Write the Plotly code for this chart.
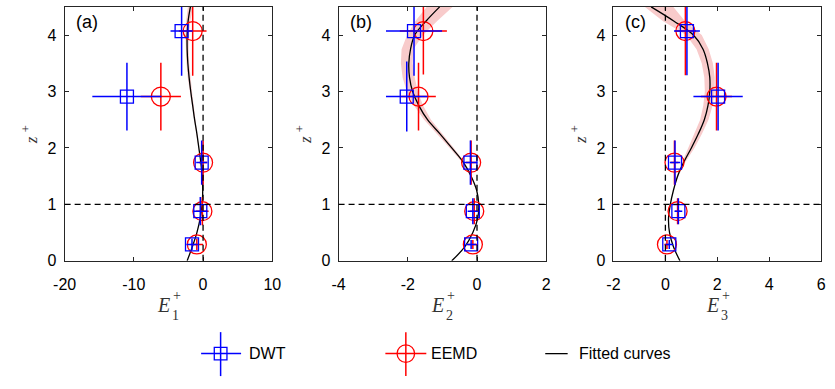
import plotly.graph_objects as go

# ---------------- data ----------------
Z_PTS = [0.29, 0.88, 1.74, 2.91, 4.07]

# panel (a)  E1+
DWT_A = [-1.6, -0.4, -0.2, -11.0, -3.1]
DWT_A_EX = [0.8, 1.0, 0.8, 5.0, 1.6]
DWT_A_EZ = [0.10, 0.25, 0.39, 0.60, 0.79]
EEMD_A = [-0.9, -0.1, 0.0, -6.1, -1.5]
EEMD_A_EX = [0.9, 0.9, 0.6, 2.9, 2.0]
EEMD_A_EZ = [0.10, 0.25, 0.39, 0.60, 0.79]

# panel (b)  E2+
DWT_B = [-0.17, -0.12, -0.19, -2.03, -1.82]
DWT_B_EX = [0.15, 0.15, 0.20, 0.60, 0.81]
DWT_B_EZ = [0.08, 0.23, 0.39, 0.62, 0.79]
EEMD_B = [-0.12, -0.08, -0.17, -1.69, -1.55]
EEMD_B_EX = [0.15, 0.12, 0.15, 0.50, 0.68]
EEMD_B_EZ = [0.08, 0.23, 0.39, 0.60, 0.77]

# panel (c)  E3+
DWT_C = [0.15, 0.50, 0.37, 2.03, 0.83]
DWT_C_EX = [0.15, 0.15, 0.20, 0.95, 0.50]
DWT_C_EZ = [0.08, 0.23, 0.39, 0.60, 0.78]
EEMD_C = [0.06, 0.47, 0.35, 1.97, 0.77]
EEMD_C_EX = [0.10, 0.10, 0.15, 0.60, 0.40]
EEMD_C_EZ = [0.08, 0.23, 0.39, 0.60, 0.78]

# fitted curves and their shaded bands
Z_FIT = [0.0, 0.25, 0.5, 0.75, 1.0, 1.25, 1.5, 1.75, 2.0, 2.25, 2.5, 2.75,
         3.0, 3.25, 3.5, 3.75, 4.0, 4.25, 4.5]
FIT_A = [-2.3, -1.55, -0.89, -0.42, -0.14, -0.05, -0.14, -0.33, -0.61, -0.89,
         -1.22, -1.50, -1.78, -2.02, -2.20, -2.30, -2.30, -2.16, -1.83]
BAND_A_LO = [-2.3, -1.55, -0.89, -0.42, -0.14, -0.05, -0.15, -0.36, -0.68, -0.99,
             -1.35, -1.66, -1.95, -2.22, -2.40, -2.52, -2.55, -2.45, -2.20]
BAND_A_HI = [-2.3, -1.55, -0.89, -0.42, -0.14, -0.05, -0.13, -0.30, -0.54, -0.79,
             -1.10, -1.35, -1.60, -1.82, -2.00, -2.08, -2.05, -1.85, -1.45]

FIT_B = [-0.73, -0.35, -0.12, 0.02, 0.05, -0.01, -0.17, -0.40, -0.73, -1.07,
         -1.43, -1.68, -1.86, -1.95, -1.97, -1.92, -1.80, -1.47, -1.08]
BAND_B_LO = [-0.73, -0.35, -0.12, 0.02, 0.05, -0.02, -0.19, -0.44, -0.79, -1.15,
             -1.53, -1.82, -2.03, -2.15, -2.20, -2.18, -2.02, -1.78, -1.45]
BAND_B_HI = [-0.73, -0.35, -0.12, 0.02, 0.05, 0.00, -0.15, -0.36, -0.67, -0.99,
             -1.33, -1.56, -1.71, -1.80, -1.86, -1.84, -1.56, -1.15, -0.70]

FIT_C = [0.56, 0.31, 0.16, 0.12, 0.19, 0.31, 0.47, 0.71, 1.00, 1.27,
         1.50, 1.64, 1.71, 1.71, 1.62, 1.45, 1.08, 0.32, -0.55]
BAND_C_LO = [0.56, 0.31, 0.16, 0.12, 0.19, 0.31, 0.44, 0.65, 0.88, 1.13,
             1.34, 1.46, 1.52, 1.50, 1.40, 1.20, 0.80, -0.10, -0.80]
BAND_C_HI = [0.56, 0.31, 0.16, 0.12, 0.19, 0.31, 0.50, 0.77, 1.12, 1.41,
             1.66, 1.82, 1.90, 1.90, 1.83, 1.67, 1.40, 0.75, 0.30]

X_RANGES = [[-20, 10], [-4, 2], [-2, 6]]
X_TICKS = [[-20, -10, 0, 10], [-4, -2, 0, 2], [-2, 0, 2, 4, 6]]
Y_TICKS = [0, 1, 2, 3, 4]
PANEL_LABELS = ["(a)", "(b)", "(c)"]
SUBS = ["1", "2", "3"]
LEGEND_NAMES = ["DWT", "EEMD", "Fitted curves"]

# ---------------- layout geometry ----------------
W, H = 835, 389
def px(x):
    return x / W
def py(y):
    return 1 - y / H

PLOT_LEFT = [54, 335, 617]
PLOT_W = 213
Y_TOP, Y_BOT = 7, 267

BLUE = "#0000FF"
RED = "#FF0000"
PINK = "#F8CBCB"
AXC = "#262626"
TXT = "#333333"
SANS = "Liberation Sans, Arial, sans-serif"
SERIF = "Liberation Serif, Times New Roman, serif"

panels = [
    (DWT_A, DWT_A_EX, DWT_A_EZ, EEMD_A, EEMD_A_EX, EEMD_A_EZ, FIT_A, BAND_A_LO, BAND_A_HI),
    (DWT_B, DWT_B_EX, DWT_B_EZ, EEMD_B, EEMD_B_EX, EEMD_B_EZ, FIT_B, BAND_B_LO, BAND_B_HI),
    (DWT_C, DWT_C_EX, DWT_C_EZ, EEMD_C, EEMD_C_EX, EEMD_C_EZ, FIT_C, BAND_C_LO, BAND_C_HI),
]

fig = go.Figure()
shapes = []
annotations = []
layout_axes = {}


def note(text, x, y, size, family=SERIF, italic=False, angle=0, anchor="center", color=TXT):
    f = dict(family=family, size=size, color=color)
    if italic:
        f["style"] = "italic"
    annotations.append(dict(text=text, xref="paper", yref="paper", x=px(x), y=py(y),
                            xanchor=anchor, yanchor="middle", textangle=angle,
                            showarrow=False, font=f))


for i, (dwt, dex, dez, eemd, eex, eez, fit, blo, bhi) in enumerate(panels):
    xa = "x" if i == 0 else f"x{i+1}"
    ya = "y" if i == 0 else f"y{i+1}"
    # band
    fig.add_trace(go.Scatter(
        x=list(blo) + list(bhi)[::-1], y=Z_FIT + Z_FIT[::-1],
        fill="toself", fillcolor=PINK, mode="lines", line=dict(width=0, color=PINK),
        showlegend=False, hoverinfo="skip", xaxis=xa, yaxis=ya))
    # fitted curve
    fig.add_trace(go.Scatter(
        x=fit, y=Z_FIT, mode="lines", line=dict(color="black", width=1.3, shape="spline"),
        showlegend=False, xaxis=xa, yaxis=ya))
    # EEMD
    fig.add_trace(go.Scatter(
        x=eemd, y=Z_PTS, mode="markers",
        marker=dict(symbol="circle-open", size=19, color=RED, line=dict(width=1.3)),
        error_x=dict(type="data", array=eex, color=RED, thickness=1.5, width=0),
        error_y=dict(type="data", array=eez, color=RED, thickness=1.5, width=0),
        showlegend=False, xaxis=xa, yaxis=ya))
    # DWT
    fig.add_trace(go.Scatter(
        x=dwt, y=Z_PTS, mode="markers",
        marker=dict(symbol="square-open", size=13, color=BLUE, line=dict(width=1.3)),
        error_x=dict(type="data", array=dex, color=BLUE, thickness=1.5, width=0),
        error_y=dict(type="data", array=dez, color=BLUE, thickness=1.5, width=0),
        showlegend=False, xaxis=xa, yaxis=ya))

    left = PLOT_LEFT[i]
    dom_x = [px(left), px(left + PLOT_W)]
    key = "" if i == 0 else str(i + 1)
    layout_axes["xaxis" + key] = dict(
        domain=dom_x, range=X_RANGES[i], anchor=ya,
        tickvals=X_TICKS[i], ticktext=[str(v) for v in X_TICKS[i]],
        ticks="inside", ticklen=4, tickcolor=AXC, showline=True, linecolor=AXC,
        linewidth=1, mirror="ticks", showgrid=False, zeroline=False,
        tickfont=dict(family=SANS, size=16, color="black"), ticklabelstandoff=9)
    layout_axes["yaxis" + key] = dict(
        domain=[py(Y_BOT), py(Y_TOP)], range=[0, 4.5], anchor=xa,
        tickvals=Y_TICKS, ticktext=[str(v) for v in Y_TICKS],
        ticks="inside", ticklen=4, tickcolor=AXC, showline=True, linecolor=AXC,
        linewidth=1, mirror="ticks", showgrid=False, zeroline=False,
        tickfont=dict(family=SANS, size=16, color="black"), ticklabelstandoff=4)

    dash = dict(color="black", width=1.3, dash="6px,4px")
    shapes.append(dict(type="line", xref=xa, yref=ya + " domain", x0=0, x1=0, y0=0, y1=1, line=dash))
    shapes.append(dict(type="line", xref=xa + " domain", yref=ya, x0=0, x1=1, y0=1, y1=1, line=dash))

    # panel label
    note(PANEL_LABELS[i], left + 10, 23, 18, family=SANS, anchor="left", color="black")
    # y title  z^+  (rotated)
    note("z", left - 34, 143, 17, italic=True, angle=-90)
    note("+", left - 40, 132, 13, angle=-90)
    # x title  E_i^+
    cx = left + PLOT_W / 2
    note("E", cx - 5, 312, 20, italic=True)
    note("+", cx + 8.5, 302, 14)
    note(SUBS[i], cx + 7.5, 323, 14)

# ---------------- legend (drawn manually) ----------------
LY = 362
shapes += [
    # DWT icon
    dict(type="line", xref="paper", yref="paper", x0=px(194), x1=px(235), y0=py(LY), y1=py(LY),
         line=dict(color=BLUE, width=1.5)),
    dict(type="line", xref="paper", yref="paper", x0=px(214), x1=px(214), y0=py(340), y1=py(385),
         line=dict(color=BLUE, width=1.5)),
    dict(type="rect", xref="paper", yref="paper", x0=px(207.5), x1=px(220.5), y0=py(355.5), y1=py(368.5),
         line=dict(color=BLUE, width=1.3)),
    # EEMD icon
    dict(type="line", xref="paper", yref="paper", x0=px(383), x1=px(425), y0=py(LY), y1=py(LY),
         line=dict(color=RED, width=1.5)),
    dict(type="line", xref="paper", yref="paper", x0=px(404), x1=px(404), y0=py(340), y1=py(385),
         line=dict(color=RED, width=1.5)),
    dict(type="circle", xref="paper", yref="paper", x0=px(395), x1=px(413), y0=py(353), y1=py(371),
         line=dict(color=RED, width=1.3)),
    # fitted curve icon
    dict(type="line", xref="paper", yref="paper", x0=px(547), x1=px(570), y0=py(LY), y1=py(LY),
         line=dict(color="black", width=1.3)),
]
for name, x in zip(LEGEND_NAMES, [241, 428, 580]):
    note(name, x, LY, 16, family=SANS, anchor="left", color="black")

fig.update_layout(
    width=W, height=H, margin=dict(l=0, r=0, t=0, b=0),
    paper_bgcolor="white", plot_bgcolor="white",
    showlegend=False, shapes=shapes, annotations=annotations,
    **layout_axes)

fig.write_html("out.html")
